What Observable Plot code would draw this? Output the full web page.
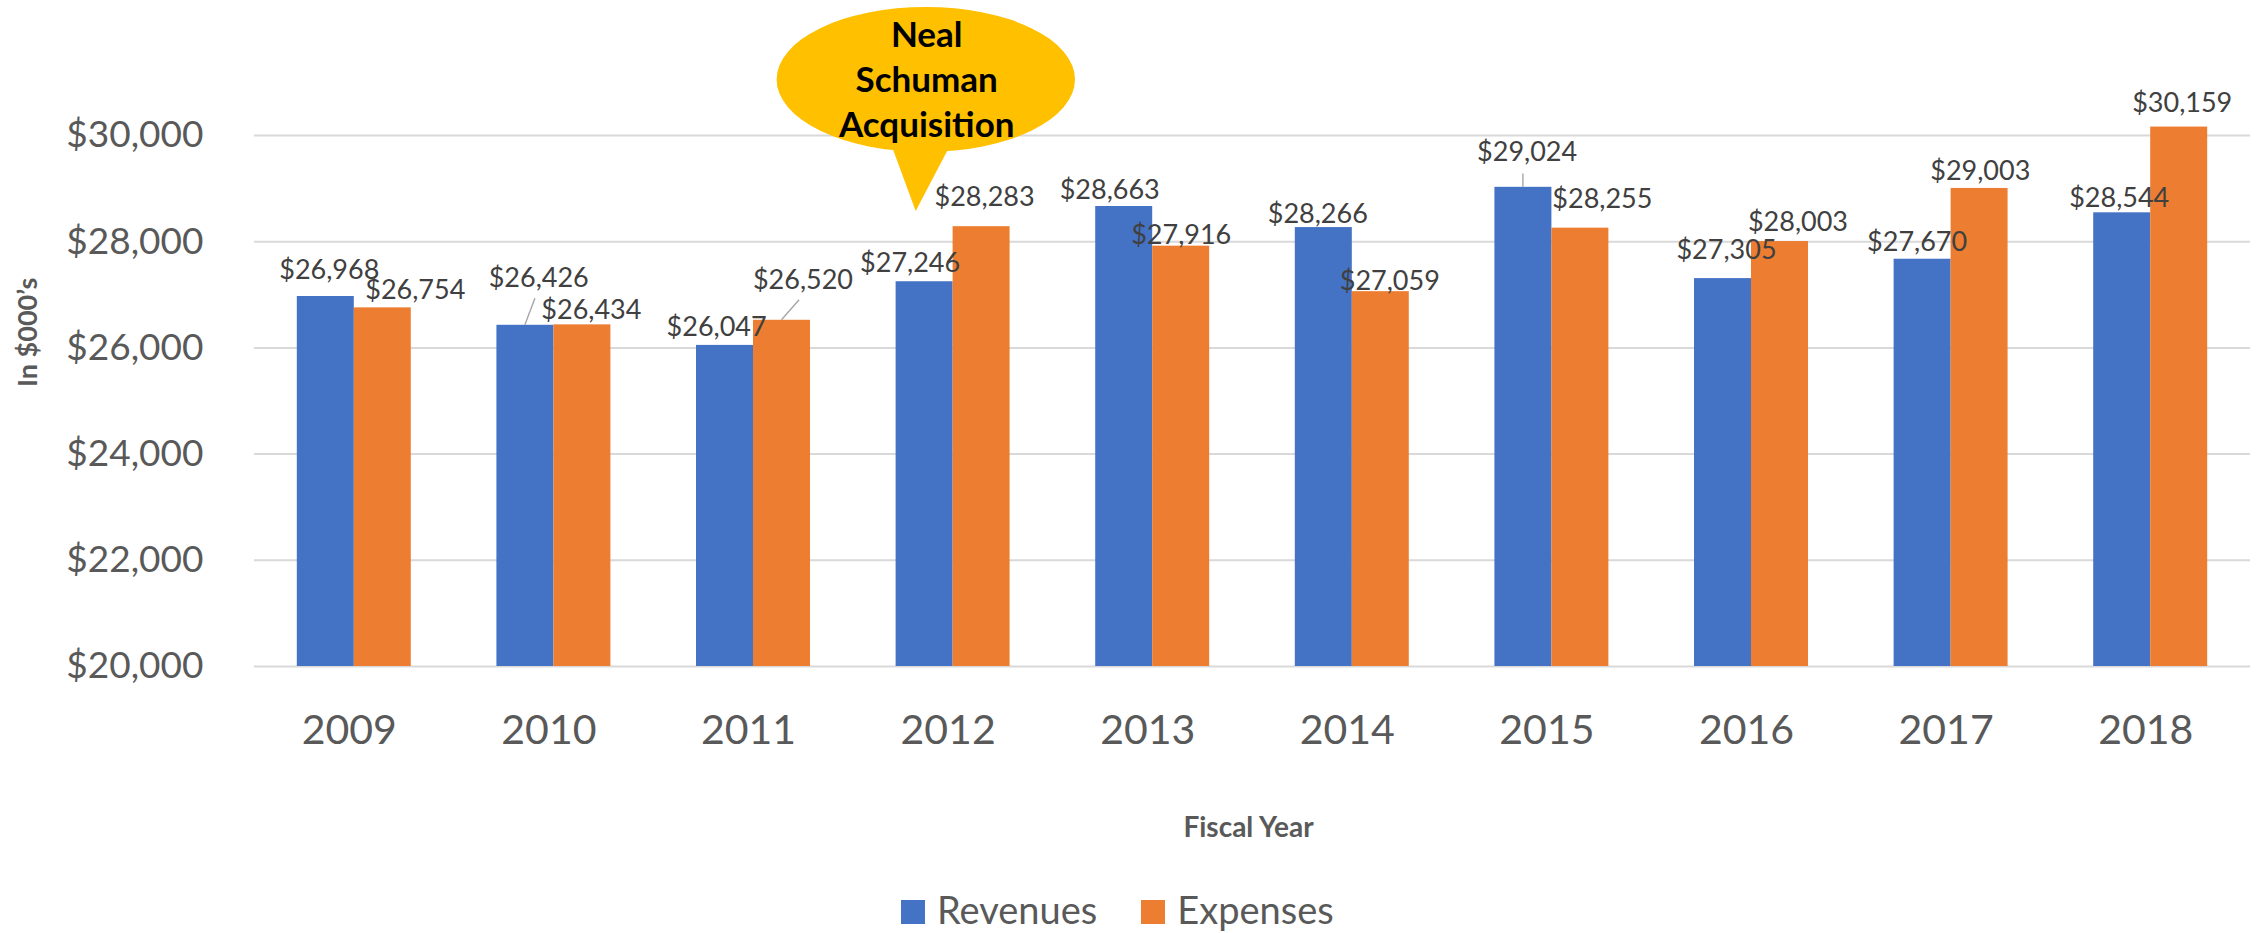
<!DOCTYPE html>
<html><head><meta charset="utf-8">
<script src="https://cdn.jsdelivr.net/npm/d3@7"></script>
<script src="https://cdn.jsdelivr.net/npm/@observablehq/plot@0.6"></script>
<style>
body{margin:0;background:#fff;font-family:Lato,sans-serif;}
#legend{margin-top:27px;padding-left:901px;font-size:38px;color:#595959;line-height:1.2;white-space:nowrap;}
.sw{display:inline-block;width:24px;height:24px;vertical-align:baseline;margin-right:12px;}
.item{margin-right:44px;}
</style></head><body>
<div id="chart"></div>
<div id="legend"></div>
<script>
const years = [2009, 2010, 2011, 2012, 2013, 2014, 2015, 2016, 2017, 2018];
const revenues = [26968, 26426, 26047, 27246, 28663, 28266, 29024, 27305, 27670, 28544];
const expenses = [26754, 26434, 26520, 28283, 27916, 27059, 28255, 28003, 29003, 30159];
const seriesNames = ["Revenues", "Expenses"];
const seriesColors = ["#4472C4", "#ED7D31"];
const yTicks = [20000, 22000, 24000, 26000, 28000, 30000];
const calloutYear = 2012;
const calloutLines = ["Neal", "Schuman", "Acquisition"];
const xTitle = "Fiscal Year";
const yTitle = "In $000\u2019s";

// label nudges (px) relative to bar-top centre, as placed in the original
const revNudge = [[3.5,-17.6],[13.3,-38],[-8.4,-9.8],[-14.5,-10],[-14.5,-7.7],[-6,-5],[3.7,-26],[3.5,-20],[-5.5,-8.3],[-3,-5.6]];
const expNudge = [[32.5,-8.9],[9,-5.9],[21,-31],[3,-21],[0,-1.7],[9,-1.7],[22,-20],[18,-11],[0.7,-8.3],[3,-15]];
const leaders = [
  {year: 2010, series: "Revenues", dx: 10, dy: -26.6},
  {year: 2011, series: "Expenses", dx: 17.6, dy: -20},
  {year: 2015, series: "Revenues", dx: 0, dy: -13.4}
];

const W = 0.2855; // bar width in year units
const rows = years.flatMap((yr, i) => [
  {year: yr, series: "Revenues", value: revenues[i], i},
  {year: yr, series: "Expenses", value: expenses[i], i}
]);
const valueOf = (yr, s) => (s === "Revenues" ? revenues : expenses)[years.indexOf(yr)];
const centerOf = (yr, s) => s === "Revenues" ? yr - W / 2 : yr + W / 2;
const fmt = v => "$" + d3.format(",")(v);

const labelMarks = rows.map(d => {
  const n = (d.series === "Revenues" ? revNudge : expNudge)[d.i];
  return Plot.text([d], {
    x: d => centerOf(d.year, d.series), y: "value", text: d => fmt(d.value),
    lineAnchor: "bottom", dx: n[0], dy: n[1], fontSize: 27, fill: "#404040"
  });
});

function leaderMark(index, scales) {
  const g = d3.create("svg:g").attr("stroke", "#a6a6a6").attr("stroke-width", 1.4);
  for (const l of leaders) {
    const x0 = scales.x(centerOf(l.year, l.series)), y0 = scales.y(valueOf(l.year, l.series));
    g.append("line").attr("x1", x0).attr("y1", y0).attr("x2", x0 + l.dx).attr("y2", y0 + l.dy);
  }
  return g.node();
}

function calloutMark(index, scales) {
  const px = scales.x(calloutYear), py = scales.y(yTicks[yTicks.length - 1]);
  const g = d3.create("svg:g");
  g.append("path")
    .attr("d", `M${px - 63.1},${py + 5} L${px - 36.9},${py + 75.9} L${px + 0.3},${py + 5} Z`)
    .attr("fill", "#FFC000");
  g.append("ellipse").attr("cx", px - 26.8).attr("cy", py - 55.6)
    .attr("rx", 149.2).attr("ry", 72.5).attr("fill", "#FFC000");
  const t = g.append("text").attr("text-anchor", "middle").attr("font-weight", "bold")
    .attr("font-size", 35).attr("fill", "#000").attr("font-family", "Lato, sans-serif");
  calloutLines.forEach((s, k) => {
    t.append("tspan").attr("x", px - 25.9).attr("y", py - 88.1 + k * 45).text(s);
  });
  return g.node();
}

const chart = Plot.plot({
  width: 2264,
  height: 860,
  marginLeft: 254,
  marginRight: 14,
  marginTop: 135,
  marginBottom: 194,
  style: {fontFamily: "Lato, sans-serif", color: "#595959", background: "white", overflow: "visible", display: "block"},
  x: {type: "linear", domain: [2008.5, 2018.5]},
  y: {domain: [20000, 30000]},
  color: {domain: seriesNames, range: seriesColors},
  marks: [
    Plot.gridY({ticks: yTicks, stroke: "#d9d9d9", strokeOpacity: 1, strokeWidth: 2}),
    Plot.axisY({ticks: yTicks, tickFormat: fmt, tickSize: 0, tickPadding: 51, fontSize: 37, label: null, fill: "#595959"}),
    Plot.axisX({ticks: years, tickFormat: d => String(d), tickSize: 0, tickPadding: 48, fontSize: 41, dx: -5, label: null, fill: "#595959"}),
    Plot.rect(rows, {
      x1: d => d.series === "Revenues" ? d.year - W : d.year,
      x2: d => d.series === "Revenues" ? d.year : d.year + W,
      y1: yTicks[0], y2: "value", fill: "series"
    }),
    leaderMark,
    ...labelMarks,
    calloutMark,
    Plot.text([yTitle], {frameAnchor: "left", text: d => d, rotate: -90, dx: -226, dy: -14, fontWeight: "bold", fontSize: 27, fill: "#595959"}),
    Plot.text([xTitle], {frameAnchor: "bottom", text: d => d, lineAnchor: "bottom", dx: -4, dy: 170.7, fontWeight: "bold", fontSize: 28, fill: "#595959"})
  ]
});
document.getElementById("chart").appendChild(chart);

const legend = d3.select("#legend");
seriesNames.forEach((s, k) => {
  const it = legend.append("span").attr("class", "item");
  it.append("span").attr("class", "sw").style("background", seriesColors[k]);
  it.append("span").text(s);
});
</script>
</body></html>
